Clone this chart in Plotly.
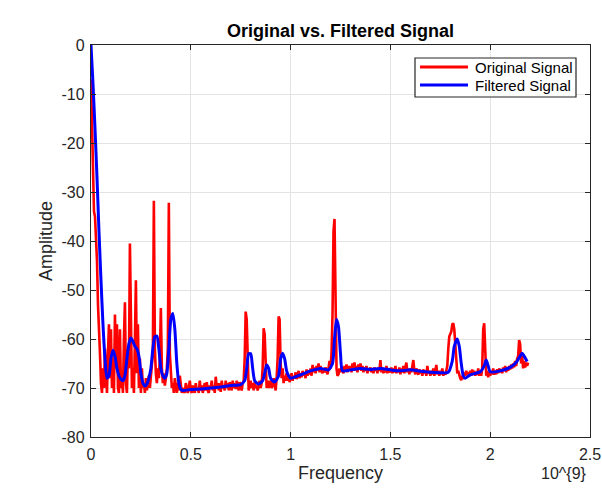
import plotly.graph_objects as go

# Original spectrum, sampled every 0.005 x 10^9 Hz starting at 0
orig_db = [
    -7, -15, -26, -34, -35, -40, -44, -53, -57, -63, -69, -71, -66, -70, -62, -69, -71, -63, -57, -68,
    -58, -70, -64, -71, -55, -66, -57, -70, -71, -58, -70, -68, -71, -60, -52.5, -69, -71, -62, -66, -40.5,
    -62, -70, -66, -71, -60, -48, -67, -57, -70, -64, -71, -66, -70, -69, -71, -68, -70.5, -69, -67.5, -70,
    -68, -66, -63, -31.8, -62, -67, -69, -66, -68, -64, -53.7, -66, -69, -67, -69.5, -68, -66, -62, -32.2, -63,
    -68, -70, -69, -71, -68, -70, -71, -69, -70.5, -67.5, -70, -71, -70, -70.5, -71, -69, -70, -71, -70, -68.5,
    -70.5, -71, -69.5, -70.5, -71, -69, -70.5, -70, -71, -68.5, -70.5, -69.5, -71, -70, -69, -70.5, -68.8, -70.5, -71, -69.5,
    -70, -68.5, -70.5, -69.5, -71, -67.7, -70, -69, -70.5, -69, -70.8, -68.5, -70, -69.5, -70.5, -68.5, -70, -69, -70.5, -68.8,
    -69.5, -70.5, -68.5, -70, -69, -70.2, -68.5, -69.8, -70.5, -68.8, -69.8, -70.5, -69, -68.5, -64, -54.4, -56, -66, -70.5, -69.5,
    -68.5, -70, -69, -70.5, -68.8, -70, -69.5, -70.5, -69, -68.5, -70, -69, -66, -57.8, -59, -67, -70, -68.5, -70, -69,
    -68.5, -70, -69.5, -68, -69.5, -70.5, -68, -64, -55.4, -56, -65, -68, -66, -69, -67.5, -68.5, -67, -68.5, -67.5, -68.8,
    -68, -67, -68.5, -67.5, -68, -66.8, -68.2, -67.5, -66.5, -68, -67, -67.8, -66.5, -67.5, -66.8, -68, -66.2, -67.5, -66.5, -67.2,
    -66, -67.5, -65.3, -66.8, -65.8, -67, -65.5, -66.5, -65, -66.8, -65.5, -66.5, -67, -66, -66.8, -65.8, -66.5, -67.2, -66, -64.5,
    -66, -63, -55, -38, -35.5, -50, -66, -67.5, -67.2, -66, -66.8, -65.8, -66.5, -67, -65.5, -66.5, -65.2, -66.8, -65.5, -66.5,
    -65.5, -66.8, -65, -66.2, -64.8, -66.5, -65.5, -66.8, -65.2, -66, -65, -66.5, -65.5, -66.8, -65.8, -66.5, -65.5, -67, -66, -66.5,
    -65.8, -66.8, -66, -67, -65.8, -66.5, -66, -67, -65.8, -66.5, -64.3, -66.8, -65.8, -67, -66, -66.8, -65.5, -67, -66, -66.5,
    -66.8, -65.8, -67, -66, -66.8, -65.5, -67, -66.2, -66.8, -65.8, -67.2, -66, -66.8, -65.5, -67, -65.8, -64.8, -66.8, -66, -67.2,
    -66, -66.8, -65.5, -64.3, -66.5, -67.2, -66, -66.8, -67.3, -66.2, -67, -66.5, -67.5, -66.2, -67, -66.5, -67.5, -65.5, -67, -66.5,
    -67.5, -66.5, -67.2, -66, -67.5, -66.5, -65.3, -67.2, -66.5, -67.5, -66.5, -67.2, -66, -67.5, -66.8, -67.3, -66.5, -65.5, -62, -59.5,
    -59, -58.5, -57, -56.8, -58, -62, -66, -67, -66.5, -67.5, -68, -68.4, -67.5, -68.2, -66.8, -67.5, -66.5, -67.3, -66.8, -67.5,
    -66.5, -67.5, -66.2, -67.3, -66.5, -67.5, -66.8, -67.3, -66, -67.5, -66.8, -67.5, -66, -58, -56.8, -62, -67.5, -66.5, -67.8, -66.8,
    -67.5, -66.5, -67.2, -66, -67.3, -66.5, -67.2, -66.2, -67, -66, -66.8, -66.2, -67, -65.8, -66.5, -65.5, -66.8, -65.8, -66.5, -65.5,
    -66.2, -65.2, -66, -65, -65.8, -64.5, -65.5, -64, -63.5, -60.2, -61, -65, -63.5, -66, -64.5, -65.8, -64.8, -65.5, -64.8,
]
orig_step = 0.005
orig_freq = [round(i * orig_step, 3) for i in range(len(orig_db))]

# Filtered spectrum (smooth), frequency in 10^9 Hz
filt_freq = [
    0.000, 0.010, 0.020, 0.030, 0.040, 0.050, 0.060, 0.070, 0.080, 0.090,
    0.100, 0.110, 0.120, 0.130, 0.140, 0.150, 0.160, 0.170, 0.180, 0.190,
    0.200, 0.210, 0.220, 0.230, 0.240, 0.250, 0.260, 0.270, 0.280, 0.290,
    0.300, 0.310, 0.320, 0.330, 0.340, 0.350, 0.360, 0.370, 0.380, 0.390,
    0.400, 0.410, 0.420, 0.430, 0.440, 0.450, 0.460, 0.500, 0.550, 0.600,
    0.650, 0.700, 0.750, 0.770, 0.780, 0.790, 0.800, 0.810, 0.820, 0.840,
    0.860, 0.870, 0.880, 0.890, 0.900, 0.920, 0.940, 0.950, 0.960, 0.970,
    0.980, 0.990, 1.000, 1.050, 1.100, 1.150, 1.190, 1.210, 1.220, 1.230,
    1.240, 1.250, 1.260, 1.300, 1.350, 1.400, 1.450, 1.500, 1.550, 1.600,
    1.650, 1.700, 1.750, 1.790, 1.810, 1.820, 1.835, 1.845, 1.855, 1.865,
    1.875, 1.900, 1.950, 1.970, 1.980, 1.990, 2.000, 2.050, 2.100, 2.130,
    2.150, 2.160, 2.170, 2.185,
]
filt_db = [
    0, -8, -17, -27, -38, -48, -57, -64, -68, -67.5,
    -64, -62.3, -63.5, -66, -67.5, -68.2, -68.5, -67.5, -64, -61,
    -59.8, -60.5, -61.5, -62, -63.5, -67, -69, -69.6, -69.2, -68,
    -66, -62, -59.5, -59.4, -62, -66, -67.5, -68, -67, -62,
    -56, -54.8, -58, -65, -69, -70.3, -70.5, -70.3, -70.2, -70,
    -69.8, -69.5, -69.3, -68.5, -66, -63, -63, -66, -68.5, -69.2,
    -68.5, -67, -65.3, -66, -68, -68.8, -67.5, -64, -62.9, -64,
    -66.5, -67.5, -68, -67.3, -66.5, -66, -66.3, -65, -60, -56,
    -57.5, -63, -66.5, -66.3, -66, -66.2, -66, -66.3, -66.5, -66.3,
    -66.6, -66.8, -66.9, -66.8, -64.5, -61.5, -60, -61.5, -65, -67.5,
    -68, -67.3, -66.7, -65.5, -64.3, -65.5, -66.7, -66.5, -65.8, -64.8,
    -63.5, -62.9, -63.5, -64.6,
]

series_names = ["Original Signal", "Filtered Signal"]
series_colors = ["#ff0000", "#0000ff"]

x_ticks = [0, 0.5, 1, 1.5, 2, 2.5]
x_tick_labels = ["0", "0.5", "1", "1.5", "2", "2.5"]
y_ticks = [0, -10, -20, -30, -40, -50, -60, -70, -80]
y_tick_labels = ["0", "-10", "-20", "-30", "-40", "-50", "-60", "-70", "-80"]

FONT = "Liberation Sans, Arial, sans-serif"
AXIS_COLOR = "#262626"
GRID_COLOR = "#e3e3e3"

W, H = 602, 489
L, R, T, B = 91, 12, 45, 52
PW, PH = W - L - R, H - T - B


def px_x(p):
    return (p - L) / PW


def px_y(p):
    return 1 - (p - T) / PH


fig = go.Figure()
fig.add_trace(go.Scatter(
    x=orig_freq, y=orig_db, mode="lines", name=series_names[0],
    line=dict(color=series_colors[0], width=2.6), showlegend=False,
))
fig.add_trace(go.Scatter(
    x=filt_freq, y=filt_db, mode="lines", name=series_names[1],
    line=dict(color=series_colors[1], width=3, shape="spline", smoothing=0.6),
    showlegend=False,
))

fig.update_layout(
    width=W, height=H,
    margin=dict(l=L, r=R, t=T, b=B, autoexpand=False),
    paper_bgcolor="white", plot_bgcolor="white",
    font=dict(family=FONT, size=16, color=AXIS_COLOR),
    title=dict(
        text="<b>Original vs. Filtered Signal</b>",
        x=(L + W - R) / 2 / W, xanchor="center",
        y=1 - 31 / H, yanchor="middle",
        font=dict(family=FONT, size=18, color="#000000"),
    ),
    xaxis=dict(
        range=[0, 2.5], tickmode="array", tickvals=x_ticks, ticktext=x_tick_labels,
        showgrid=True, gridcolor=GRID_COLOR, gridwidth=1,
        showline=True, linecolor=AXIS_COLOR, linewidth=1.3, mirror="ticks",
        ticks="inside", ticklen=5, tickcolor=AXIS_COLOR,
        zeroline=False, automargin=False, ticklabeloverflow="allow",
        ticklabelstandoff=3,
        title=dict(text="Frequency", font=dict(family=FONT, size=18, color=AXIS_COLOR), standoff=3),
        tickfont=dict(family=FONT, size=16, color=AXIS_COLOR),
    ),
    yaxis=dict(
        range=[-80, 0], tickmode="array", tickvals=y_ticks, ticktext=y_tick_labels,
        showgrid=True, gridcolor=GRID_COLOR, gridwidth=1,
        showline=True, linecolor=AXIS_COLOR, linewidth=1.3, mirror="ticks",
        ticks="inside", ticklen=5, tickcolor=AXIS_COLOR,
        zeroline=False, automargin=False, ticklabeloverflow="allow",
        ticklabelstandoff=2,
        title=dict(text="Amplitude", font=dict(family=FONT, size=18, color=AXIS_COLOR), standoff=4),
        tickfont=dict(family=FONT, size=16, color=AXIS_COLOR),
    ),
)

# Legend box (MATLAB style) drawn in paper coordinates
fig.add_shape(
    type="rect", xref="paper", yref="paper",
    x0=px_x(415), x1=px_x(576), y0=px_y(97), y1=px_y(58),
    line=dict(color=AXIS_COLOR, width=1.2), fillcolor="white", layer="above",
)
legend_rows = [67, 85]
for name, color, row in zip(series_names, series_colors, legend_rows):
    fig.add_shape(
        type="line", xref="paper", yref="paper",
        x0=px_x(420), x1=px_x(468), y0=px_y(row), y1=px_y(row),
        line=dict(color=color, width=2.8), layer="above",
    )
    fig.add_annotation(
        text=name, xref="paper", yref="paper",
        x=px_x(473), y=px_y(row), xanchor="left", yanchor="middle",
        showarrow=False, font=dict(family=FONT, size=15, color="#000000"),
    )

fig.add_annotation(
    text="10^{9}", xref="paper", yref="paper",
    x=px_x(589), y=px_y(473), xanchor="right", yanchor="middle",
    showarrow=False, font=dict(family=FONT, size=16, color=AXIS_COLOR),
)

fig.write_html(
    "out.html",
    config={"displayModeBar": False},
    post_script="document.body.style.margin='0px';",
)
